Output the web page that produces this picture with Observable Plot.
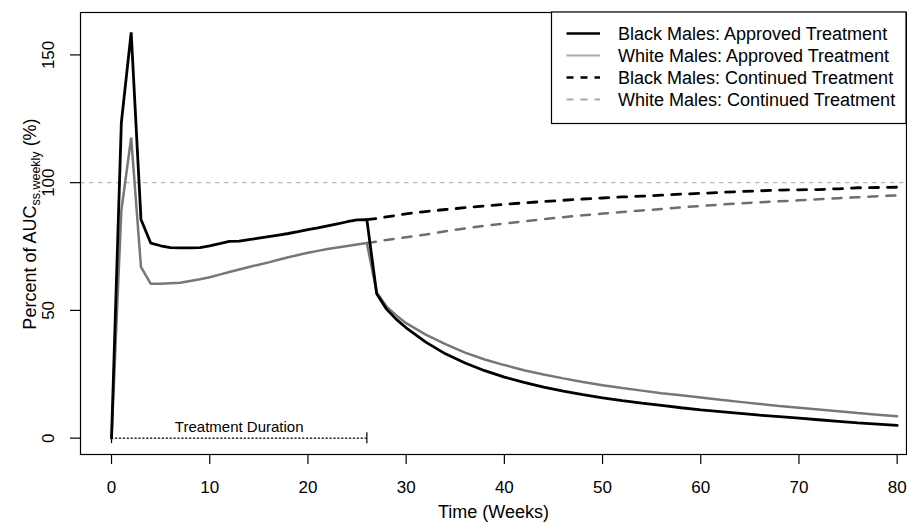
<!DOCTYPE html>
<html>
<head>
<meta charset="utf-8">
<script src="https://cdn.jsdelivr.net/npm/d3@7"></script>
<script src="https://cdn.jsdelivr.net/npm/@observablehq/plot@0.6"></script>
<style>
  html, body { margin: 0; padding: 0; background: #fff; }
  #chart { width: 907px; height: 523px; }
  svg { font-family: "Liberation Sans", Arial, Helvetica, sans-serif; }
</style>
</head>
<body>
<div id="chart"></div>
<script>
// ---- data ----
const approvedWeeks = [0,1,2,3,4,5,6,7,8,9,10,11,12,13,14,15,16,17,18,19,20,21,22,23,24,25,26,27,28,29,30,
  32,34,36,38,40,42,44,46,48,50,52,54,56,58,60,62,64,66,68,70,72,74,76,78,80];
const blackApproved = [0,123.5,158.8,85.6,76.3,75.3,74.6,74.5,74.5,74.6,75.3,76.1,77.0,77.1,77.7,78.3,78.9,79.5,80.1,80.8,81.6,82.3,83.1,83.9,84.7,85.4,85.5,56.5,50.5,46.5,43.2,
  37.6,33.0,29.4,26.4,23.9,21.8,20.0,18.4,17.0,15.8,14.7,13.7,12.8,11.9,11.1,10.4,9.7,9.0,8.4,7.8,7.2,6.6,6.0,5.5,5.0];
const whiteApproved = [0,89.0,117.6,66.9,60.4,60.4,60.6,60.8,61.5,62.2,63.0,64.0,65.0,66.0,67.0,67.9,68.8,69.8,70.8,71.7,72.6,73.3,74.0,74.6,75.2,75.8,76.4,57.0,51.5,48.0,45.0,
  40.5,36.8,33.5,30.8,28.6,26.6,24.9,23.4,22.0,20.7,19.6,18.6,17.6,16.8,15.9,15.0,14.2,13.4,12.6,11.9,11.2,10.5,9.8,9.2,8.6];

const continuedWeeks = [26,27,28,30,32,34,36,38,40,42,44,46,48,50,52,54,56,58,60,62,64,66,68,70,72,74,76,78,80];
const blackContinued = [85.5,86.0,86.6,87.8,88.7,89.5,90.2,90.9,91.5,92.1,92.6,93.1,93.6,94.0,94.4,94.7,95.1,95.5,95.8,96.2,96.5,96.8,97.1,97.2,97.3,97.6,98.0,98.1,98.2];
const whiteContinued = [76.4,76.9,77.6,78.6,79.7,81.0,82.1,83.1,84.0,84.9,85.7,86.5,87.2,87.9,88.5,89.1,89.7,90.3,90.9,91.4,91.9,92.3,92.7,93.1,93.5,93.9,94.3,94.7,95.0];

const referenceLevel = [100];
const treatmentBounds = [0, 26];
const treatmentLabel = "Treatment Duration";
const xTicks = [0,10,20,30,40,50,60,70,80];
const yTicks = [0,50,100,150];
const xTitle = "Time (Weeks)";

const legendItems = [
  {label: "Black Males: Approved Treatment", color: "#000", dash: null, width: 2.5},
  {label: "White Males: Approved Treatment", color: "#a8a8a8", dash: null, width: 2},
  {label: "Black Males: Continued Treatment", color: "#000", dash: "7,7", width: 2.5},
  {label: "White Males: Continued Treatment", color: "#a8a8a8", dash: "7,7", width: 2}
];

// ---- tables built from the arrays ----
const approvedBlack = approvedWeeks.map((w, i) => ({week: w, value: blackApproved[i]}));
const approvedWhite = approvedWeeks.map((w, i) => ({week: w, value: whiteApproved[i]}));
const contBlack = continuedWeeks.map((w, i) => ({week: w, value: blackContinued[i]}));
const contWhite = continuedWeeks.map((w, i) => ({week: w, value: whiteContinued[i]}));

const W = 907, H = 523;
const mL = 80, mR = 1, mT = 12, mB = 69;
const FONT = 17;
const TITLE_FONT = 18;

const chart = Plot.plot({
  width: W,
  height: H,
  marginLeft: mL,
  marginRight: mR,
  marginTop: mT,
  marginBottom: mB,
  style: {fontFamily: '"Liberation Sans", Arial, Helvetica, sans-serif', background: "#fff", color: "#000"},
  x: {domain: [-3.16, 80.95]},
  y: {domain: [-6.4, 166.6]},
  marks: [
    Plot.ruleY(referenceLevel, {stroke: "#bbb", strokeWidth: 1.2, strokeDasharray: "4.5,4.5"}),
    // treatment duration
    Plot.lineY(treatmentBounds, {x: d => d, y: () => 0, stroke: "#000", strokeWidth: 1.2, strokeDasharray: "1.3,2.6"}),
    Plot.ruleX(treatmentBounds, {x: d => d, y1: () => 0, y2: () => 0, insetTop: -5.5, insetBottom: -5.5, stroke: "#000", strokeWidth: 1.2}),
    Plot.text([treatmentLabel], {x: () => d3.mean(treatmentBounds), y: () => 0, text: d => d, lineAnchor: "bottom", dy: -6, fontSize: 15, fill: "#000"}),
    // continued (dashed)
    Plot.line(contWhite, {x: "week", y: "value", stroke: "#6e6e6e", strokeWidth: 2.5, strokeDasharray: "9,9"}),
    Plot.line(contBlack, {x: "week", y: "value", stroke: "#000", strokeWidth: 2.8, strokeDasharray: "9,9"}),
    // approved (solid)
    Plot.line(approvedWhite, {x: "week", y: "value", stroke: "#777", strokeWidth: 2.5, strokeLinejoin: "miter"}),
    Plot.line(approvedBlack, {x: "week", y: "value", stroke: "#000", strokeWidth: 2.8, strokeLinejoin: "miter"}),
    // axes
    Plot.axisX({ticks: xTicks, tickSize: 10, tickPadding: 16, fontSize: FONT, label: null, stroke: "#000", strokeWidth: 1.2}),
    Plot.axisY({ticks: yTicks, tickSize: 10, tickFormat: () => "", label: null, stroke: "#000", strokeWidth: 1.2}),
    Plot.text(yTicks, {y: d => d, frameAnchor: "left", dx: -32, rotate: -90, text: d => String(d), fontSize: FONT, textAnchor: "middle", lineAnchor: "middle", fill: "#000"}),
    Plot.text([xTitle], {frameAnchor: "bottom", dy: 58, text: d => d, fontSize: TITLE_FONT, lineAnchor: "middle", fill: "#000"}),
    Plot.frame({stroke: "#000", strokeWidth: 1.2})
  ]
});

document.getElementById("chart").appendChild(chart);

// ---- y axis title with subscript ----
const svg = d3.select(chart);
const yt = svg.append("text")
  .attr("transform", `translate(36,224) rotate(-90)`)
  .attr("text-anchor", "middle")
  .attr("font-size", TITLE_FONT)
  .attr("fill", "#000");
yt.append("tspan").text("Percent of AUC");
yt.append("tspan").attr("font-size", 12.5).attr("dy", 4).text("ss.weekly");
yt.append("tspan").attr("dy", -4).text(" (%)");

// ---- legend (box in the top-right corner of the frame) ----
const lgX = 551.5, lgY = mT, lgW = W - mR - lgX, lgH = 111.5;
const lg = svg.append("g").attr("text-anchor", "start");
lg.append("rect").attr("x", lgX).attr("y", lgY).attr("width", lgW).attr("height", lgH)
  .attr("fill", "#fff").attr("stroke", "#000").attr("stroke-width", 1.2);
legendItems.forEach((it, i) => {
  const cy = 33.5 + i * 22;
  lg.append("line").attr("x1", 566.5).attr("x2", 600).attr("y1", cy).attr("y2", cy)
    .attr("stroke", it.color).attr("stroke-width", it.width)
    .attr("stroke-dasharray", it.dash);
  lg.append("text").attr("x", 618).attr("y", cy).attr("dy", "0.35em")
    .attr("text-anchor", "start")
    .attr("font-size", 18).attr("fill", "#000").text(it.label);
});
</script>
</body>
</html>
